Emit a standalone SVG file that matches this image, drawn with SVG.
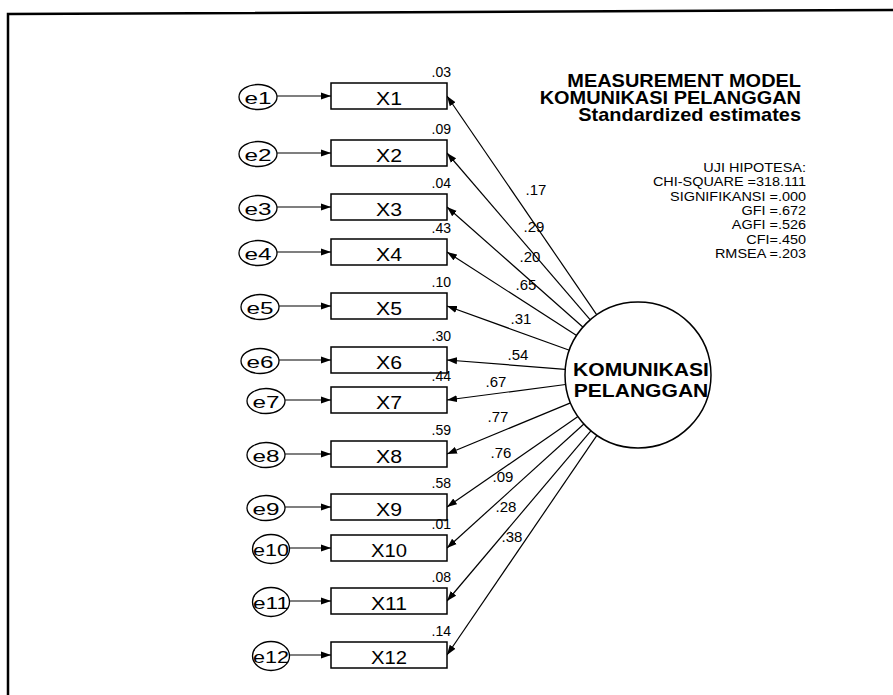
<svg xmlns="http://www.w3.org/2000/svg" width="893" height="695" viewBox="0 0 893 695">
<style>
text{font-family:"Liberation Sans",Arial,sans-serif;fill:#000}
.box{fill:#fff;stroke:#000;stroke-width:1.5}
.err{fill:#fff;stroke:#000;stroke-width:1.3}
.lbl{font-size:18px;text-anchor:middle}
.elbl{font-size:17px;text-anchor:middle}
.var{font-size:14px;text-anchor:end}
.ld{font-size:15px;text-anchor:middle}
.edge{stroke:#000;stroke-width:1.2;fill:none;marker-end:url(#ah)}
.title{font-size:17.5px;font-weight:bold;text-anchor:end}
.stat{font-size:13.5px;text-anchor:end}
.lat{font-size:19px;font-weight:bold;text-anchor:middle}
</style>
<defs>
<marker id="ah" markerUnits="userSpaceOnUse" markerWidth="11" markerHeight="8" refX="10" refY="4" orient="auto"><path d="M0,0.5 L10,4 L0,7.5 z" fill="#000"/></marker>
</defs>
<rect width="893" height="695" fill="#fff"/>
<path d="M8,695 L8,14 L893,10" fill="none" stroke="#000" stroke-width="2.5"/>

<g id="title">
<g transform="translate(801,0) scale(1.14,1)">
<text class="title" x="0" y="87">MEASUREMENT MODEL</text>
<text class="title" x="0" y="104">KOMUNIKASI PELANGGAN</text>
<text class="title" x="0" y="121">Standardized estimates</text>
</g>
</g>
<g id="fit">
<g transform="translate(806,0) scale(1.07,1)">
<text class="stat" x="0" y="172">UJI HIPOTESA:</text>
<text class="stat" x="0" y="186.5">CHI-SQUARE =318.111</text>
<text class="stat" x="0" y="201">SIGNIFIKANSI =.000</text>
<text class="stat" x="0" y="215">GFI =.672</text>
<text class="stat" x="0" y="229.5">AGFI =.526</text>
<text class="stat" x="0" y="244">CFI=.450</text>
<text class="stat" x="0" y="258">RMSEA =.203</text>
</g>
</g>

<g id="connectors">
<line class="edge" x1="277" y1="96" x2="331" y2="96"/>
<line class="edge" x1="277" y1="153" x2="331" y2="153"/>
<line class="edge" x1="277" y1="207" x2="331" y2="207"/>
<line class="edge" x1="277" y1="252" x2="331" y2="252"/>
<line class="edge" x1="279" y1="306" x2="331" y2="306"/>
<line class="edge" x1="279" y1="360" x2="331" y2="360"/>
<line class="edge" x1="285" y1="400" x2="331" y2="400"/>
<line class="edge" x1="285" y1="454" x2="331" y2="454"/>
<line class="edge" x1="285" y1="507" x2="331" y2="507"/>
<line class="edge" x1="289.5" y1="548" x2="331" y2="548"/>
<line class="edge" x1="289.5" y1="601" x2="331" y2="601"/>
<line class="edge" x1="289.5" y1="655" x2="331" y2="655"/>

<line class="edge" x1="596.8" y1="314.8" x2="447" y2="96"/>
<line class="edge" x1="590.3" y1="319.9" x2="447" y2="153"/>
<line class="edge" x1="583.1" y1="327.2" x2="447" y2="207"/>
<line class="edge" x1="576.6" y1="335.5" x2="447" y2="252"/>
<line class="edge" x1="569.4" y1="350.2" x2="447" y2="306"/>
<line class="edge" x1="565.2" y1="369.3" x2="447" y2="360"/>
<line class="edge" x1="565.6" y1="384.5" x2="447" y2="400"/>
<line class="edge" x1="570.5" y1="402.9" x2="447" y2="454"/>
<line class="edge" x1="578.0" y1="416.6" x2="447" y2="507"/>
<line class="edge" x1="583.9" y1="424.0" x2="447" y2="548"/>
<line class="edge" x1="590.9" y1="430.8" x2="447" y2="601"/>
<line class="edge" x1="596.9" y1="435.3" x2="447" y2="655"/>

<text class="ld" x="536" y="195">.17</text>
<text class="ld" x="534" y="232">.29</text>
<text class="ld" x="530" y="262">.20</text>
<text class="ld" x="526" y="290">.65</text>
<text class="ld" x="521" y="324">.31</text>
<text class="ld" x="518" y="360">.54</text>
<text class="ld" x="496" y="387">.67</text>
<text class="ld" x="498" y="422">.77</text>
<text class="ld" x="501" y="458">.76</text>
<text class="ld" x="503" y="482">.09</text>
<text class="ld" x="506" y="512">.28</text>
<text class="ld" x="512" y="542">.38</text>
</g>

<g id="KOMUNIKASI_PELANGGAN">
<circle cx="638" cy="375" r="73" fill="#fff" stroke="#000" stroke-width="1.5"/>
<g transform="translate(641,0) scale(1.11,1)">
<text class="lat" x="0" y="376">KOMUNIKASI</text>
<text class="lat" x="0" y="397">PELANGGAN</text>
</g>
</g>

<g id="X1"><rect class="box" x="331" y="83" width="116" height="26"/><text class="lbl" x="389" y="105" textLength="26" lengthAdjust="spacingAndGlyphs">X1</text><text class="var" x="451" y="77">.03</text></g>
<g id="X2"><rect class="box" x="331" y="140" width="116" height="26"/><text class="lbl" x="389" y="162" textLength="26" lengthAdjust="spacingAndGlyphs">X2</text><text class="var" x="451" y="134">.09</text></g>
<g id="X3"><rect class="box" x="331" y="194" width="116" height="26"/><text class="lbl" x="389" y="216" textLength="26" lengthAdjust="spacingAndGlyphs">X3</text><text class="var" x="451" y="188">.04</text></g>
<g id="X4"><rect class="box" x="331" y="239" width="116" height="26"/><text class="lbl" x="389" y="261" textLength="26" lengthAdjust="spacingAndGlyphs">X4</text><text class="var" x="451" y="233">.43</text></g>
<g id="X5"><rect class="box" x="331" y="293" width="116" height="26"/><text class="lbl" x="389" y="315" textLength="26" lengthAdjust="spacingAndGlyphs">X5</text><text class="var" x="451" y="287">.10</text></g>
<g id="X6"><rect class="box" x="331" y="347" width="116" height="26"/><text class="lbl" x="389" y="369" textLength="26" lengthAdjust="spacingAndGlyphs">X6</text><text class="var" x="451" y="341">.30</text></g>
<g id="X7"><rect class="box" x="331" y="387" width="116" height="26"/><text class="lbl" x="389" y="409" textLength="26" lengthAdjust="spacingAndGlyphs">X7</text><text class="var" x="451" y="381">.44</text></g>
<g id="X8"><rect class="box" x="331" y="441" width="116" height="26"/><text class="lbl" x="389" y="463" textLength="26" lengthAdjust="spacingAndGlyphs">X8</text><text class="var" x="451" y="435">.59</text></g>
<g id="X9"><rect class="box" x="331" y="494" width="116" height="26"/><text class="lbl" x="389" y="516" textLength="26" lengthAdjust="spacingAndGlyphs">X9</text><text class="var" x="451" y="488">.58</text></g>
<g id="X10"><rect class="box" x="331" y="535" width="116" height="26"/><text class="lbl" x="389" y="557" textLength="36" lengthAdjust="spacingAndGlyphs">X10</text><text class="var" x="451" y="529">.01</text></g>
<g id="X11"><rect class="box" x="331" y="588" width="116" height="26"/><text class="lbl" x="389" y="610" textLength="36" lengthAdjust="spacingAndGlyphs">X11</text><text class="var" x="451" y="582">.08</text></g>
<g id="X12"><rect class="box" x="331" y="642" width="116" height="26"/><text class="lbl" x="389" y="664" textLength="36" lengthAdjust="spacingAndGlyphs">X12</text><text class="var" x="451" y="636">.14</text></g>

<g id="e1"><ellipse class="err" cx="258" cy="97" rx="19" ry="12.5"/><text class="elbl" x="258" y="104" textLength="27" lengthAdjust="spacingAndGlyphs">e1</text></g>
<g id="e2"><ellipse class="err" cx="258" cy="154" rx="19" ry="12.5"/><text class="elbl" x="258" y="161" textLength="27" lengthAdjust="spacingAndGlyphs">e2</text></g>
<g id="e3"><ellipse class="err" cx="258" cy="208" rx="19" ry="12.5"/><text class="elbl" x="258" y="215" textLength="27" lengthAdjust="spacingAndGlyphs">e3</text></g>
<g id="e4"><ellipse class="err" cx="258" cy="253" rx="19" ry="12.5"/><text class="elbl" x="258" y="260" textLength="27" lengthAdjust="spacingAndGlyphs">e4</text></g>
<g id="e5"><ellipse class="err" cx="260" cy="307" rx="19" ry="12.5"/><text class="elbl" x="260" y="314" textLength="27" lengthAdjust="spacingAndGlyphs">e5</text></g>
<g id="e6"><ellipse class="err" cx="260" cy="361" rx="19" ry="12.5"/><text class="elbl" x="260" y="368" textLength="27" lengthAdjust="spacingAndGlyphs">e6</text></g>
<g id="e7"><ellipse class="err" cx="266" cy="401" rx="19" ry="12.5"/><text class="elbl" x="266" y="408" textLength="27" lengthAdjust="spacingAndGlyphs">e7</text></g>
<g id="e8"><ellipse class="err" cx="266" cy="455" rx="19" ry="12.5"/><text class="elbl" x="266" y="462" textLength="27" lengthAdjust="spacingAndGlyphs">e8</text></g>
<g id="e9"><ellipse class="err" cx="266" cy="508" rx="19" ry="12.5"/><text class="elbl" x="266" y="515" textLength="27" lengthAdjust="spacingAndGlyphs">e9</text></g>
<g id="e10"><ellipse class="err" cx="271" cy="549" rx="18.5" ry="14.5"/><text class="elbl" x="271" y="556" textLength="36" lengthAdjust="spacingAndGlyphs">e10</text></g>
<g id="e11"><ellipse class="err" cx="271" cy="602" rx="18.5" ry="14.5"/><text class="elbl" x="271" y="609" textLength="36" lengthAdjust="spacingAndGlyphs">e11</text></g>
<g id="e12"><ellipse class="err" cx="271" cy="656" rx="18.5" ry="14.5"/><text class="elbl" x="271" y="663" textLength="36" lengthAdjust="spacingAndGlyphs">e12</text></g>
</svg>
